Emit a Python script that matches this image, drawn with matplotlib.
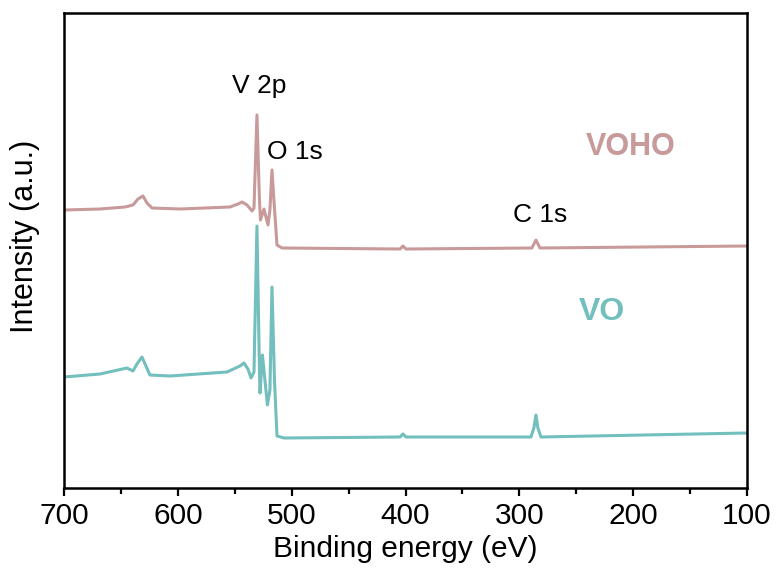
import numpy as np
import matplotlib
matplotlib.use("Agg")
from matplotlib import pyplot as plt
from matplotlib.ticker import MultipleLocator

plt.rcParams['font.family'] = ['Liberation Sans', 'DejaVu Sans']

## spectra (binding energy in eV, intensity in a.u.)
voho_energy = [700, 668.4, 646.4, 639.4, 635.0, 630.6, 627.1, 622.7, 598.0, 554.2,
               547.1, 543.6, 539.2, 534.8, 533.1, 530.5, 528.3, 527.4, 524.3, 520.8,
               519.1, 517.3, 515.6, 512.9, 508.5, 404.8, 402.2, 399.6, 289.0, 285.4,
               281.9, 100]
voho_int = [280, 281, 283, 285, 291, 294, 287, 282, 281, 283,
            286, 288, 285, 279, 282, 375, 290, 270, 281, 265,
            280, 320, 290, 245, 242, 241, 244, 241, 242, 250,
            242, 244]

vo_energy = [700, 668.4, 644.7, 639.4, 635.9, 631.5, 628.0, 624.5, 606.9, 556.8,
             545.4, 541.9, 538.4, 535.7, 533.1, 530.5, 528.3, 527.8, 525.7, 521.3,
             519.1, 517.3, 515.1, 512.9, 506.7, 404.8, 402.2, 399.6, 289.8, 287.2,
             285.4, 283.7, 281.0, 100]
vo_int = [113, 116, 122, 119, 126, 133, 124, 115, 114, 118,
          124, 127, 121, 112, 118, 264, 120, 97, 135, 85,
          100, 203, 110, 54, 52, 53, 56, 53, 53, 62,
          75, 62, 53, 57]

peak_names = ['V 2p', 'O 1s', 'C 1s']
peak_pos = [(528.7, 404), (497.1, 338), (281.8, 275)]

pink = '#c89a9a'
teal = '#72bfbd'

fig = plt.figure(figsize=(7.79, 5.74), dpi=100)
ax = fig.add_axes([64/779, 86/574, 683/779, 475/574])

ax.plot(voho_energy, voho_int, color=pink, lw=2.2)
ax.plot(vo_energy, vo_int, color=teal, lw=2.2)

for name, (e, i) in zip(peak_names, peak_pos):
    ax.text(e, i, name, fontsize=19, ha='center', va='center')

ax.text(201.9, 343, 'VOHO', fontsize=22, fontweight='bold', color=pink, ha='center', va='center')
ax.text(227.4, 178, 'VO', fontsize=23, fontweight='bold', color=teal, ha='center', va='center')

ax.set_xlim(700, 100)
ax.set_ylim(2, 477)
ax.set_yticks([])
ax.xaxis.set_major_locator(MultipleLocator(100))
ax.xaxis.set_minor_locator(MultipleLocator(50))
ax.tick_params(axis='x', which='major', length=6, width=1.6, labelsize=21.5, pad=4)
ax.tick_params(axis='x', which='minor', length=4, width=1.6)
for s in ax.spines.values():
    s.set_linewidth(1.8)

ax.set_xlabel('Binding energy (eV)', fontsize=21.5, labelpad=4)
fig.text(25/779, 1 - 236/574, 'Intensity (a.u.)', fontsize=22, rotation=90,
         ha='center', va='center')

plt.savefig('out.png', dpi=100)
